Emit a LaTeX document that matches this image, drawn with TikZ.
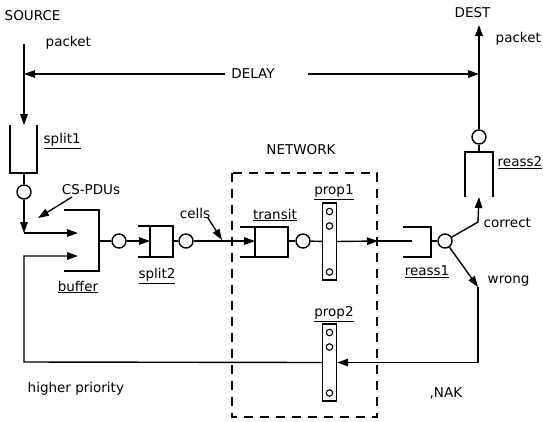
\documentclass[tikz,border=0pt]{standalone}
\usepackage{fontspec}
\setmainfont{DejaVu Sans}
\usetikzlibrary{positioning,arrows.meta}
\newcommand{\qname}[1]{\underline{#1}}

\begin{document}
\begin{tikzpicture}[x=1pt,y=-1pt,line width=1.4pt,
	>={Triangle[length=11pt,width=7.5pt]},
	every node/.style={font=\fontsize{13.5}{15}\selectfont,inner sep=1pt},
	server/.style={circle,draw,minimum size=14pt,inner sep=0pt},
	dot/.style={circle,draw,line width=1.1pt,minimum size=6.5pt,inner sep=0pt},
	prop/.style={draw,minimum width=14pt,minimum height=77pt,inner sep=0pt},
	heavy/.style={line width=2.6pt}]
	\useasboundingbox (0,0) rectangle (543,421);

	% texts
	\node[anchor=west] (src) at (3,16) {SOURCE};
	\node[anchor=west] (pktin) at (44,43) {packet};
	\node[anchor=west] (dst) at (453,13) {DEST};
	\node[anchor=west] (pktout) at (494,39) {packet};
	\node (delay) at (253,74) {DELAY};
	\node (net) at (301,150) {NETWORK};
	\node (cspdu) at (91,190) {CS-PDUs};
	\node (cells) at (195,213) {cells};
	\node[anchor=west] (correct) at (482,223) {correct};
	\node[anchor=west] (wrong) at (486,281) {wrong};
	\node[anchor=west] (prio) at (26,389) {higher priority};
	\node[anchor=west] (nak) at (428,393) {,NAK};

	% queue labels
	\node[anchor=west] (l-split1) at (42,141) {\qname{split1}};
	\node (l-buffer) at (78,287) {\qname{buffer}};
	\node (l-split2) at (157,276) {\qname{split2}};
	\node (l-transit) at (275,215) {\qname{transit}};
	\node (l-prop1) at (334,192) {\qname{prop1}};
	\node (l-prop2) at (334,314) {\qname{prop2}};
	\node (l-reass1) at (427,272) {\qname{reass1}};
	\node[anchor=west] (l-reass2) at (496,163) {\qname{reass2}};

	% queues
	\draw (10,125) |- (37,173) -- (37,125); % split1
	\draw (64,210) -| (99,271) -- (64,271); % buffer
	\draw[heavy] (138,226) -| (173,257) -- (138,257) (150,226) -- (150,257); % split2
	\draw (240,227) -| (288,257) -- (240,257) (255,227) -- (255,257); % transit
	\draw (403,227) -| (431,257) -- (403,257); % reass1
	\draw (465,197) |- (493,152) -- (493,197); % reass2

	\coordinate (s1-in) at (24,125);
	\coordinate (s1-out) at (24,173);
	\coordinate (j1) at (24,233);
	\coordinate (j2) at (24,256);
	\coordinate (b-in1) at (78,233);
	\coordinate (b-in2) at (78,256);
	\coordinate (b-out) at (99,241);
	\coordinate (s2-in) at (150,241);
	\coordinate (s2-out) at (173,241);
	\coordinate (t-in) at (255,241);
	\coordinate (t-out) at (288,241);
	\coordinate (net-out) at (378,241);
	\coordinate (r1-in) at (412,241);
	\coordinate (r1-out) at (431,241);
	\coordinate (kink1) at (478,222);
	\coordinate (r2-in) at (479,197);
	\coordinate (r2-out) at (479,152);
	\coordinate (kink2) at (478,287);
	\coordinate (fb) at (24,362);

	% servers
	\node[server] (c1) at (24,192) {};
	\node[server] (c2) at (119,241) {};
	\node[server] (c3) at (186,241) {};
	\node[server] (c4) at (303,241) {};
	\node[server] (c5) at (445,241) {};
	\node[server] (c6) at (479,137) {};

	% propagation delays
	\node[prop] (p1) at (329.5,241.5) {};
	\node[prop] (p2) at (329.5,362.5) {};
	\foreach \p in {p1,p2}{
		\foreach \d in {30,15.5,-30.5}{
			\node[dot] at ([yshift=\d pt]\p.center) {};
		}
	}

	% network
	\draw[dashed,dash pattern=on 9pt off 7pt] (232,173) rectangle (377,417);

	% flow
	\draw[->] (24,44) -- (s1-in);
	\draw (s1-out) -- (c1);
	\draw[->] (c1) -- (j1);
	\draw[->] (j1) -- (b-in1);
	\draw (b-out) -- (c2);
	\draw[->] (c2) -- (s2-in);
	\draw (s2-out) -- (c3);
	\draw[->] (c3) -- (t-in);
	\draw (t-out) -- (c4);
	\draw (c4) -- (p1);
	\draw[->] (p1.east) -- (net-out);
	\draw (net-out) -- (r1-in);
	\draw (r1-out) -- (c5);
	\draw[->] (c5) -- (kink1) -- (r2-in);
	\draw (r2-out) -- (c6);
	\draw[->] (c6) -- (479,25);
	\draw[->] (c5) -- (kink2);
	\draw[->] (kink2) |- (p2.east);
	\draw[->] (p2.west) -- (fb) -- (j2) -- (b-in2);

	% delay span
	\draw[->] ([xshift=-28pt]delay.center) -- (24,74);
	\draw[->] ([xshift=55pt]delay.center) -- (479,74);

	% pointers
	\draw[->] (72,197) -- (38,218);
	\draw[->] (208,218) -- (222,240);
\end{tikzpicture}
\end{document}
